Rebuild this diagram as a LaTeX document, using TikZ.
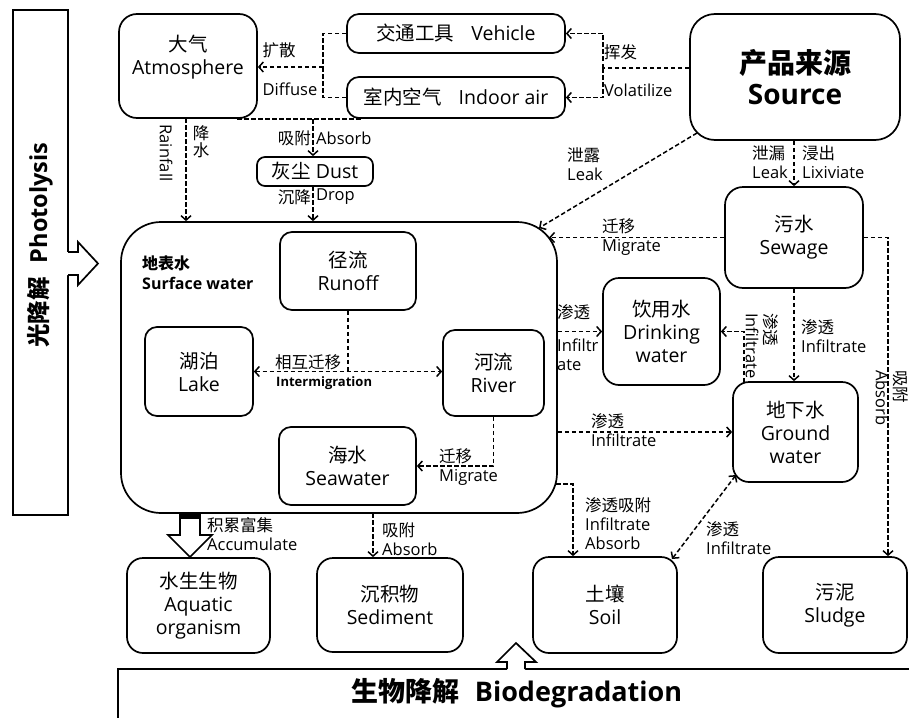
\documentclass[tikz,border=0pt]{standalone}
\usepackage{fontspec}
\setmainfont{Open Sans}
\newfontfamily\zhf{Noto Sans CJK SC}
\newcommand\zh[1]{{\zhf #1}}
\usetikzlibrary{arrows.meta}
\newcommand\bx[7][]{\node[box,minimum width={(#4-#2)*1pt},minimum height={(#5-#3)*1pt},#1] (#6) at ({(#2+#4)/2},{(#3+#5)/2}) {#7};}
\begin{document}
\begin{tikzpicture}[x=1pt,y=-1pt,
 box/.style={draw, line width=1.7pt, rounded corners=12pt, align=center, inner sep=0pt, font=\fontsize{19.5}{23}\selectfont},
 txt/.style={align=center, inner sep=0pt, font=\fontsize{19.5}{23}\selectfont},
 lab/.style={inner sep=0pt, align=left, font=\fontsize{16.5}{19}\selectfont},
 con/.style={line width=1.5pt, dash pattern=on 4.5pt off 2.5pt},
 arr/.style={con, -{Straight Barb[length=4.5pt,width=10pt]}},
 darr/.style={con, {Straight Barb[length=4.5pt,width=10pt]}-{Straight Barb[length=4.5pt,width=10pt]}},
 blk/.style={line width=1.7pt, line join=miter}
]
\useasboundingbox (0,0) rectangle (909,717);

% side bars
\node[draw, line width=1.7pt, minimum width=55pt, minimum height=505pt, inner sep=0pt] (pbar) at (40.5,262.5) {};
\node[inner sep=0pt, rotate=90, font=\fontsize{23.5}{28}\selectfont\bfseries] (ptxt) at (40,245) {\zh{光降解}\hspace{14pt}Photolysis};
\node[draw, line width=1.7pt, minimum width=797pt, minimum height=60pt, inner sep=0pt] (bbar) at (516.5,699) {};
\node[inner sep=0pt, font=\fontsize{27}{30}\selectfont\bfseries] (btxt) at (517,693) {\zh{生物降解}\hspace{15pt}Biodegradation};

% boxes
\bx[rounded corners=18pt]{119}{14}{257}{118}{atm}{}
\node[txt] (atmt) at (188,57) {\zh{大气}\\Atmosphere};
\bx{347}{14}{565}{53}{veh}{\zh{交通工具}\hspace{17pt}Vehicle}
\bx{347}{77}{565}{118}{ind}{\zh{室内空气}\hspace{17pt}Indoor air}
\bx[rounded corners=25pt, font=\fontsize{28}{31}\selectfont\bfseries]{690}{14}{900}{140}{src}{\zh{产品来源}\\Source}
\bx[rounded corners=8pt]{257}{157}{373}{186}{dust}{\zh{灰尘} Dust}
\bx[rounded corners=40pt]{121}{222}{557}{513}{sw}{}
\bx{280}{232}{416}{310}{run}{\zh{径流}\\Runoff}
\bx{145}{327}{253}{416}{lake}{\zh{湖泊}\\Lake}
\bx{443}{330}{544}{416}{riv}{\zh{河流}\\River}
\bx{279}{427}{416}{505}{sea}{\zh{海水}\\Seawater}
\bx[rounded corners=18pt]{725}{187}{863}{288}{sew}{\zh{污水}\\Sewage}
\bx[rounded corners=16pt]{603}{278}{720}{385}{dw}{\zh{饮用水}\\Drinking\\water}
\bx[rounded corners=16pt]{733}{382}{858}{482}{gw}{\zh{地下水}\\Ground\\water}
\bx[rounded corners=16pt]{127}{558}{270}{653}{aq}{\zh{水生生物}\\Aquatic\\organism}
\bx[rounded corners=16pt]{317}{558}{463}{652}{sed}{\zh{沉积物}\\Sediment}
\bx[rounded corners=16pt]{533}{557}{677}{653}{soil}{\zh{土壤}\\Soil}
\bx[rounded corners=16pt]{763}{557}{907}{653}{sl}{\zh{污泥}\\Sludge}

% block arrows
\fill[white] (66,252) -- (78,252) -- (78,242) -- (98,263.5) -- (78,285) -- (78,275) -- (66,275) -- cycle;
\draw[blk] (68,252) -- (78,252) -- (78,242) -- (98,263.5) -- (78,285) -- (78,275) -- (68,275);
\fill[white] (507,671) -- (507,662) -- (497,662) -- (516,643) -- (536,662) -- (525,662) -- (525,671) -- cycle;
\draw[blk] (507,669) -- (507,662) -- (497,662) -- (516,643) -- (536,662) -- (525,662) -- (525,669);
\draw[blk, fill=white] (180,513) -- (200,513) -- (200,535) -- (212,535) -- (190,557) -- (168,535) -- (180,535) -- cycle;
\fill[black] (180,512) rectangle (200,519);

% connectors
\coordinate (v1) at (603,68);
\draw[con] (src.west |- v1) -- (v1);
\draw[arr] (v1) |- (veh.east);
\draw[arr] (v1) |- (ind.east);
\coordinate (d1) at (323,67);
\draw[con] (veh.west) -| (d1);
\draw[con] (ind.west) -| (d1);
\draw[arr] (d1) -- (d1 -| atm.east);
\coordinate (a1) at (237,119);
\coordinate (a2) at (362,119);
\coordinate (a3) at (313,119);
\draw[con] (a1) -- (a2);
\draw[arr] (a3) -- (a3 |- dust.north);
\coordinate (dr) at (313,186);
\draw[arr] (dr) -- (dr |- sw.north);
\coordinate (r1) at (186,118);
\draw[arr] (r1) -- (r1 |- sw.north);
\coordinate (l1) at (697,133);
\coordinate (l2) at (539,228);
\draw[arr] (l1) -- (l2);
\draw[arr] (sew.north |- src.south) -- (sew.north);
\coordinate (m1) at (549,237.5);
\draw[arr] (sew.west) -- (m1);
\draw[arr] (sew.south) -- (sew.south |- gw.north);
\coordinate (g1) at (744,382);
\draw[arr] (g1) |- (dw.east);
\draw[arr] (dw.west -| sw.east) -- (dw.west);
\draw[arr] (gw.west -| sw.east) -- (gw.west);
\coordinate (s1) at (888,237.5);
\draw[arr] (sew.east) -- (s1) -- (s1 |- sl.north);
\coordinate (p1) at (556,484);
\coordinate (p2) at (573,484);
\draw[arr] (p1) -- (p2) -- (p2 |- soil.north);
\coordinate (k1) at (672,559);
\coordinate (k2) at (736,475);
\draw[darr] (k1) -- (k2);
\coordinate (q1) at (373,513);
\draw[arr] (q1) -- (q1 |- sed.north);
\draw[darr] (lake.east) -- (lake.east -| riv.west);
\draw[con] (run.south) -- (run.south |- lake.east);
\draw[arr] (riv.south) |- (sea.east);

% labels
\node[lab] (t1) at (279,50) {\zh{扩散}};
\node[lab] (t2) at (290,89) {Diffuse};
\node[lab,anchor=west] (t3) at (604,52) {\zh{挥发}};
\node[lab,anchor=west] (t4) at (604,90) {Volatilize};
\node[lab,anchor=east] (t5) at (311,138) {\zh{吸附}};
\node[lab,anchor=west] (t6) at (316,138) {Absorb};
\node[lab,anchor=east] (t7) at (311,197) {\zh{沉降}};
\node[lab,anchor=west] (t8) at (316,197) {Drop};
\node[lab,rotate=-90] (t9) at (166,153) {Rainfall};
\node[lab,align=center,font=\fontsize{16.5}{17}\selectfont] (t10) at (201,142) {\zh{降}\\\zh{水}};
\node[lab,anchor=west] (t11) at (567,164) {\zh{泄露}\\Leak};
\node[lab,anchor=west] (t12) at (752,162) {\zh{泄漏}\\Leak};
\node[lab,anchor=west] (t13) at (802,162) {\zh{浸出}\\Lixiviate};
\node[lab,anchor=west] (t14) at (602,237) {\zh{迁移}\\Migrate};
\node[lab,anchor=west] (t15) at (557,312) {\zh{渗透}};
\node[lab,anchor=west] (t16) at (557,355) {Infiltr\\ate};
\node[lab,rotate=-90,anchor=north west] (t17) at (779,313) {\zh{渗透}\\Infiltrate};
\node[lab,anchor=west] (t18) at (801,336) {\zh{渗透}\\Infiltrate};
\node[lab,rotate=-90,anchor=north west] (t19) at (909,370) {\zh{吸附}\\Absorb};
\node[lab,anchor=west] (t20) at (591,430) {\zh{渗透}\\Infiltrate};
\node[lab,anchor=west] (t21) at (585,524) {\zh{渗透吸附}\\Infiltrate\\Absorb};
\node[lab,anchor=west] (t22) at (706,538) {\zh{渗透}\\Infiltrate};
\node[lab,anchor=west] (t23) at (207,534) {\zh{积累富集}\\Accumulate};
\node[lab,anchor=west] (t24) at (382,539) {\zh{吸附}\\Absorb};
\node[lab] (t25) at (308,362) {\zh{相互迁移}};
\node[lab,anchor=west,font=\fontsize{13}{15}\selectfont\bfseries] (t26) at (276,383) {Intermigration};
\node[lab,anchor=west] (t27) at (439,467) {\zh{迁移}\\Migrate};
\node[lab,anchor=west,font=\fontsize{16}{20}\selectfont\bfseries] (t28) at (142,273) {\zh{地表水}\\Surface water};
\end{tikzpicture}
\end{document}
